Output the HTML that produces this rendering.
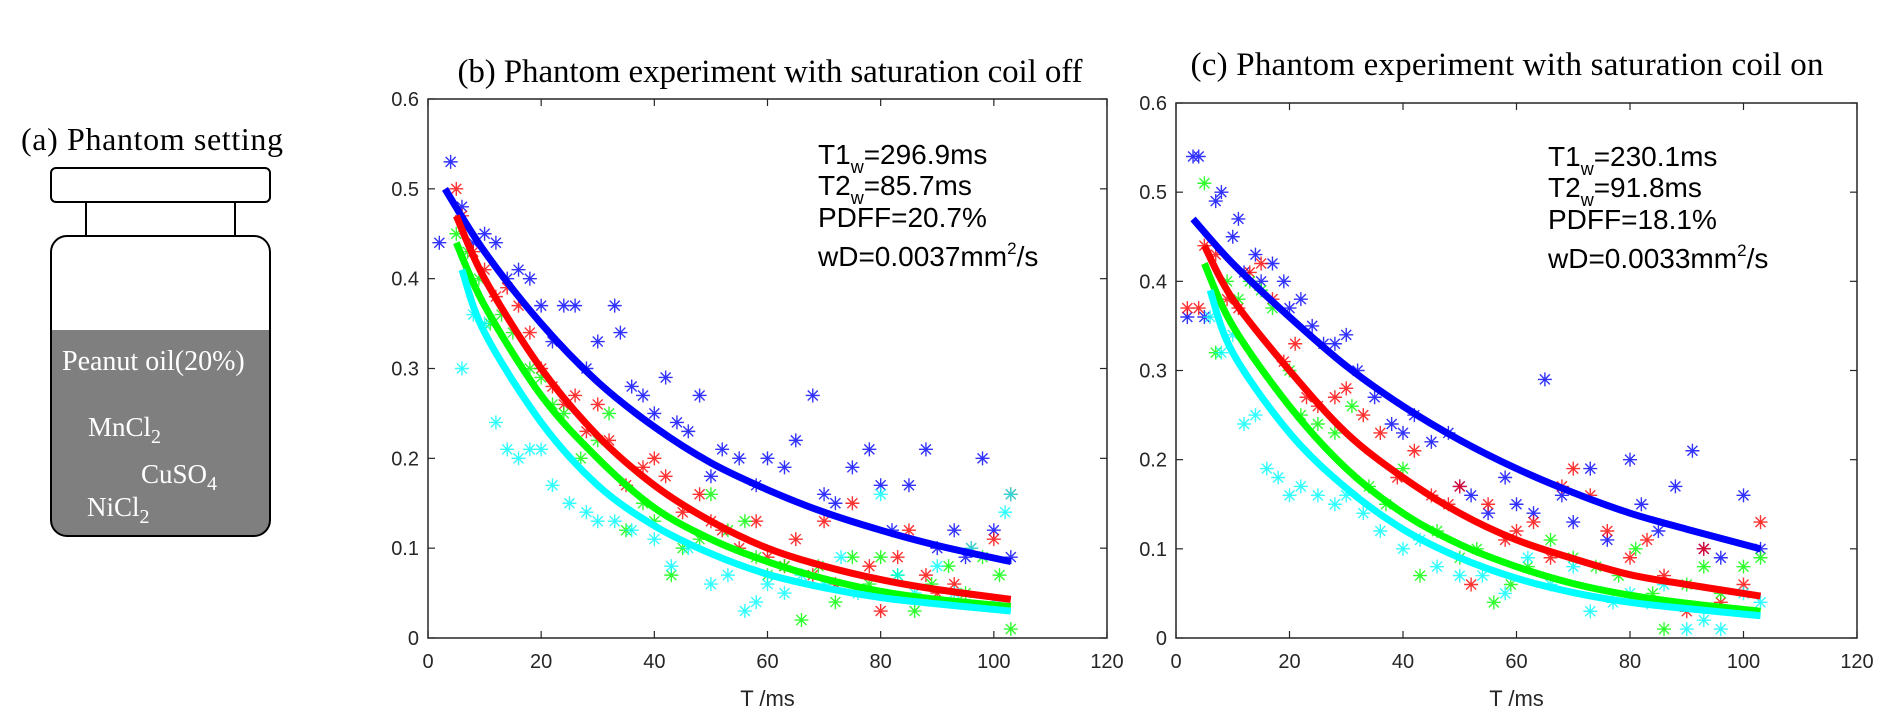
<!DOCTYPE html>
<html><head><meta charset="utf-8">
<style>
html,body{margin:0;padding:0;background:#fff;}
svg{display:block;}
.serif{font-family:"Liberation Serif",serif;}
.sans{font-family:"Liberation Sans",sans-serif;}
</style></head>
<body>
<svg id="fig" width="1887" height="724" viewBox="0 0 1887 724" xmlns="http://www.w3.org/2000/svg">
  <g>
    <text class="serif" x="21" y="150" font-size="32" fill="#000" textLength="262">(a) Phantom setting</text>
    <rect x="51" y="168" width="219" height="34" rx="5" fill="#fff" stroke="#000" stroke-width="2"/>
    <line x1="86" y1="202" x2="86" y2="236" stroke="#000" stroke-width="2"/>
    <line x1="235" y1="202" x2="235" y2="236" stroke="#000" stroke-width="2"/>
    <clipPath id="bc"><rect x="51" y="236" width="219" height="300" rx="16"/></clipPath>
    <rect x="51" y="330" width="219" height="210" fill="#7f7f7f" clip-path="url(#bc)"/>
    <rect x="51" y="236" width="219" height="300" rx="16" fill="none" stroke="#000" stroke-width="2"/>
    <text class="serif" x="62" y="370" font-size="28" fill="#fff">Peanut oil(20%)</text>
    <text class="serif" x="88" y="436" font-size="27" fill="#fff">MnCl<tspan font-size="20" dy="7">2</tspan></text>
    <text class="serif" x="141" y="483" font-size="27" fill="#fff">CuSO<tspan font-size="20" dy="7">4</tspan></text>
    <text class="serif" x="87" y="516" font-size="27" fill="#fff">NiCl<tspan font-size="20" dy="7">2</tspan></text>
  </g>
</svg>
<script>
const xTicks=[0,20,40,60,80,100,120];
const yTicks=[0,0.1,0.2,0.3,0.4,0.5,0.6];
const yTickLabels=["0","0.1","0.2","0.3","0.4","0.5","0.6"];
const fitX=[3,10,20,30,40,50,60,70,80,90,103];
const bBlueFit=[0.50,0.43,0.35,0.285,0.235,0.195,0.165,0.14,0.12,0.103,0.085];
const bRedFit=[0.47,0.40,0.30,0.225,0.17,0.13,0.10,0.08,0.065,0.054,0.043];
const bGreenFit=[0.44,0.37,0.27,0.20,0.145,0.11,0.085,0.066,0.052,0.043,0.035];
const bCyanFit=[0.41,0.34,0.24,0.17,0.125,0.094,0.071,0.056,0.045,0.038,0.03];
const cBlueFit=[0.47,0.42,0.36,0.305,0.26,0.222,0.19,0.163,0.14,0.122,0.10];
const cRedFit=[0.44,0.38,0.30,0.23,0.18,0.14,0.11,0.089,0.071,0.06,0.047];
const cGreenFit=[0.42,0.35,0.26,0.19,0.14,0.105,0.08,0.061,0.048,0.039,0.03];
const cCyanFit=[0.39,0.32,0.23,0.168,0.122,0.09,0.067,0.051,0.04,0.033,0.025];
const fitStart=[3,5,5,6];
const bBluePts=[[2,0.44],[4,0.53],[6,0.48],[8,0.44],[10,0.45],[12,0.44],[14,0.40],[16,0.41],[18,0.40],[20,0.37],[22,0.33],[24,0.37],[26,0.37],[28,0.30],[30,0.33],[33,0.37],[34,0.34],[36,0.28],[38,0.27],[40,0.25],[42,0.29],[44,0.24],[46,0.23],[48,0.27],[50,0.18],[52,0.21],[55,0.2],[58,0.17],[60,0.20],[63,0.19],[65,0.22],[68,0.27],[70,0.16],[72,0.15],[75,0.19],[78,0.21],[80,0.17],[82,0.12],[85,0.17],[88,0.21],[90,0.10],[93,0.12],[95,0.09],[98,0.20],[100,0.12],[103,0.09]];
const bRedPts=[[5,0.50],[6,0.47],[8,0.43],[10,0.41],[12,0.38],[14,0.39],[16,0.37],[18,0.34],[20,0.30],[22,0.28],[24,0.26],[26,0.27],[28,0.23],[30,0.26],[32,0.22],[35,0.17],[38,0.19],[40,0.20],[42,0.18],[45,0.14],[48,0.16],[50,0.13],[52,0.12],[55,0.10],[58,0.13],[60,0.09],[63,0.08],[65,0.11],[68,0.07],[70,0.13],[72,0.06],[75,0.15],[78,0.08],[80,0.03],[83,0.09],[85,0.12],[88,0.07],[90,0.05],[93,0.06],[96,0.10],[100,0.11],[103,0.16]];
const bGreenPts=[[5,0.45],[7,0.43],[9,0.40],[11,0.35],[13,0.36],[15,0.34],[18,0.30],[20,0.29],[22,0.26],[24,0.25],[27,0.20],[30,0.22],[32,0.25],[35,0.12],[38,0.15],[40,0.13],[43,0.07],[45,0.10],[48,0.11],[50,0.16],[53,0.12],[56,0.13],[58,0.09],[60,0.07],[63,0.08],[66,0.02],[69,0.08],[72,0.04],[75,0.09],[78,0.06],[80,0.09],[83,0.07],[86,0.03],[89,0.06],[92,0.08],[95,0.05],[98,0.09],[101,0.07],[103,0.01]];
const bCyanPts=[[6,0.30],[8,0.36],[10,0.35],[12,0.24],[14,0.21],[16,0.20],[18,0.21],[20,0.21],[22,0.17],[25,0.15],[28,0.14],[30,0.13],[33,0.13],[36,0.12],[40,0.11],[43,0.08],[46,0.10],[50,0.06],[53,0.07],[56,0.03],[58,0.04],[60,0.06],[63,0.05],[66,0.07],[70,0.06],[73,0.09],[76,0.05],[80,0.16],[83,0.07],[86,0.05],[90,0.08],[93,0.05],[96,0.10],[100,0.04],[102,0.14],[103,0.16]];
const cBluePts=[[2,0.36],[3,0.54],[4,0.54],[5,0.36],[7,0.49],[8,0.50],[10,0.45],[11,0.47],[12,0.41],[14,0.43],[15,0.40],[17,0.42],[19,0.40],[20,0.37],[22,0.38],[24,0.35],[26,0.33],[28,0.33],[30,0.34],[32,0.30],[35,0.27],[38,0.24],[40,0.23],[42,0.25],[45,0.22],[48,0.23],[50,0.17],[52,0.16],[55,0.14],[58,0.18],[60,0.15],[63,0.14],[65,0.29],[68,0.16],[70,0.13],[73,0.19],[76,0.11],[80,0.20],[82,0.15],[85,0.12],[88,0.17],[91,0.21],[93,0.10],[96,0.09],[100,0.16],[103,0.10]];
const cRedPts=[[2,0.37],[4,0.37],[5,0.44],[7,0.43],[9,0.38],[11,0.37],[13,0.41],[15,0.42],[17,0.38],[19,0.31],[21,0.33],[23,0.27],[25,0.26],[28,0.27],[30,0.28],[33,0.25],[36,0.23],[39,0.18],[42,0.21],[45,0.16],[48,0.15],[50,0.17],[52,0.06],[55,0.15],[58,0.11],[60,0.12],[63,0.13],[66,0.09],[68,0.17],[70,0.19],[73,0.16],[76,0.12],[80,0.09],[83,0.11],[86,0.07],[90,0.03],[93,0.10],[96,0.04],[100,0.06],[103,0.13]];
const cGreenPts=[[5,0.51],[7,0.32],[9,0.40],[11,0.38],[13,0.40],[15,0.39],[17,0.37],[20,0.30],[22,0.25],[25,0.24],[28,0.23],[31,0.26],[34,0.17],[37,0.15],[40,0.19],[43,0.07],[46,0.12],[50,0.09],[53,0.10],[56,0.04],[59,0.06],[62,0.08],[66,0.11],[70,0.09],[74,0.08],[78,0.07],[81,0.10],[84,0.05],[86,0.01],[90,0.06],[93,0.08],[96,0.05],[100,0.08],[103,0.09]];
const cCyanPts=[[6,0.36],[8,0.32],[10,0.34],[12,0.24],[14,0.25],[16,0.19],[18,0.18],[20,0.16],[22,0.17],[25,0.16],[28,0.15],[30,0.16],[33,0.14],[36,0.12],[40,0.10],[43,0.11],[46,0.08],[50,0.07],[54,0.07],[58,0.05],[62,0.09],[66,0.06],[70,0.08],[73,0.03],[77,0.04],[80,0.05],[83,0.04],[86,0.06],[90,0.01],[93,0.02],[96,0.01],[100,0.05],[103,0.04]];
const colors=["#0000ff","#ff0000","#00ff00","#00ffff"];
const seriesNames=["blue","red","green","cyan"];

const NS="http://www.w3.org/2000/svg";
const svg=document.getElementById('fig');
function mk(tag,attrs,parent){const e=document.createElementNS(NS,tag);for(const k in attrs)e.setAttribute(k,attrs[k]);parent.appendChild(e);return e;}

function panel(id,box,title,titleX,titleY,titleLen,ann,fits,pts){
  const g=mk('g',{},svg);
  
  
  const xs=v=>box.l+(v/120)*(box.r-box.l);
  const ys=v=>box.b-(v/0.6)*(box.b-box.t);
  const t=mk('text',{x:titleX,y:titleY,'font-size':33,'text-anchor':'middle',class:'serif',textLength:titleLen},g);
  t.textContent=title;
  
  
  pts.forEach((arr,si)=>{
    const sg=mk('g',{stroke:colors[si],'stroke-width':1.4,opacity:0.8},g);
    
    
    arr.forEach(p=>{
      const cx=xs(p[0]),cy=ys(p[1]),r=7;
      const m=mk('path',{d:`M${cx-r} ${cy}H${cx+r}M${cx} ${cy-r}V${cy+r}M${cx-5} ${cy-5}L${cx+5} ${cy+5}M${cx-5} ${cy+5}L${cx+5} ${cy-5}`},sg);
      
      
    });
  });
  fits.forEach((arr,si)=>{
    const xv=fitX.slice();xv[0]=fitStart[si];
    const P=xv.map((x,i)=>[xs(x),ys(arr[i])]);
    let d=`M${P[0][0]} ${P[0][1]}`;
    for(let i=0;i<P.length-1;i++){
      const p0=P[Math.max(0,i-1)],p1=P[i],p2=P[i+1],p3=P[Math.min(P.length-1,i+2)];
      d+=`C${p1[0]+(p2[0]-p0[0])/6} ${p1[1]+(p2[1]-p0[1])/6} ${p2[0]-(p3[0]-p1[0])/6} ${p2[1]-(p3[1]-p1[1])/6} ${p2[0]} ${p2[1]}`;
    }
    const l=mk('path',{d:d,fill:'none',stroke:colors[si],'stroke-width':7},g);
    
    
  });
  const fr=mk('rect',{x:box.l,y:box.t,width:box.r-box.l,height:box.b-box.t,fill:'none',stroke:'#262626','stroke-width':1.5},g);
  
  
  xTicks.forEach(v=>{
    const x=xs(v);
    mk('line',{x1:x,y1:box.b,x2:x,y2:box.b-7,stroke:'#262626','stroke-width':1.2},g);
    mk('line',{x1:x,y1:box.t,x2:x,y2:box.t+7,stroke:'#262626','stroke-width':1.2},g);
    const tl=mk('text',{x:x,y:box.b+30,'font-size':20,'text-anchor':'middle',fill:'#262626',class:'sans'},g);
    tl.textContent=String(v);
    
    
  });
  yTicks.forEach((v,i)=>{
    const y=ys(v);
    mk('line',{x1:box.l,y1:y,x2:box.l+7,y2:y,stroke:'#262626','stroke-width':1.2},g);
    mk('line',{x1:box.r,y1:y,x2:box.r-7,y2:y,stroke:'#262626','stroke-width':1.2},g);
    const tl=mk('text',{x:box.l-9,y:y+7,'font-size':20,'text-anchor':'end',fill:'#262626',class:'sans'},g);
    tl.textContent=yTickLabels[i];
    
    
  });
  const xl=mk('text',{x:(box.l+box.r)/2,y:box.b+68,'font-size':22,'text-anchor':'middle',fill:'#262626',class:'sans'},g);
  xl.textContent='T /ms';
  
  
  const a=mk('g',{class:'sans','font-size':28,fill:'#000'},g);
  
  
  a.innerHTML=`<text x="${ann.x}" y="${ann.y}">T1<tspan font-size="18" dy="9">w</tspan><tspan dy="-9">=${ann.t1}</tspan></text>
<text x="${ann.x}" y="${ann.y+31}">T2<tspan font-size="18" dy="9">w</tspan><tspan dy="-9">=${ann.t2}</tspan></text>
<text x="${ann.x}" y="${ann.y+63}">PDFF=${ann.pdff}</text>
<text x="${ann.x}" y="${ann.y+102}">wD=${ann.wd}mm<tspan font-size="17" dy="-12">2</tspan><tspan dy="12">/s</tspan></text>`;
}
panel('plot-b',{l:428,r:1107,t:99,b:638},'(b) Phantom experiment with saturation coil off',770,82,625,
  {x:818,y:164,t1:'296.9ms',t2:'85.7ms',pdff:'20.7%',wd:'0.0037'},
  [bBlueFit,bRedFit,bGreenFit,bCyanFit],[bBluePts,bRedPts,bGreenPts,bCyanPts]);
panel('plot-c',{l:1176,r:1857,t:103,b:638},'(c) Phantom experiment with saturation coil on',1507,75,633,
  {x:1548,y:166,t1:'230.1ms',t2:'91.8ms',pdff:'18.1%',wd:'0.0033'},
  [cBlueFit,cRedFit,cGreenFit,cCyanFit],[cBluePts,cRedPts,cGreenPts,cCyanPts]);
</script>
</body></html>
